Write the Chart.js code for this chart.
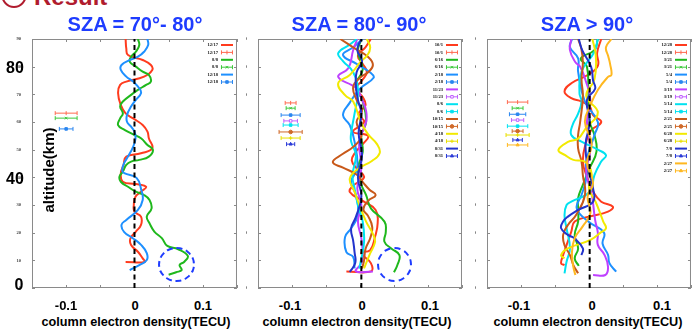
<!DOCTYPE html>
<html>
<head>
<meta charset="utf-8">
<script src="https://cdn.jsdelivr.net/npm/chart.js@4.4.0/dist/chart.umd.min.js"></script>
<style>
  body { margin:0; background:#fff; width:696px; height:329px; overflow:hidden; position:relative;
         font-family:"Liberation Sans", Arial, sans-serif; }
  canvas { position:absolute; }
  .t { position:absolute; transform:translate(-50%,-50%); white-space:nowrap; font-weight:bold; line-height:1; color:#000; }
  .title { color:#1e3cff; font-size:20px; }
  .big { font-size:16px; }
  .xl { font-size:13px; }
  .xt { font-size:12.7px; }
  .ring { position:absolute; border:2.5px dashed #1e3cff; border-radius:50%; box-sizing:border-box; }
</style>
</head>
<body>
<div style="position:absolute;left:1px;top:-20px;width:22px;height:24px;border:2.5px solid #b01c2e;border-radius:50%"></div>
<div style="position:absolute;left:34px;top:-15px;font:bold 24px 'Liberation Sans';color:#b01c2e;line-height:1">Result</div>

<canvas id="c1" width="226" height="263" style="left:16px;top:33px"></canvas>
<canvas id="c2" width="221" height="263" style="left:246px;top:33px"></canvas>
<canvas id="c3" width="221" height="263" style="left:475px;top:33px"></canvas>

<div class="t title" style="left:135px;top:24px">SZA = 70°- 80°</div>
<div class="t title" style="left:359px;top:24px">SZA = 80°- 90°</div>
<div class="t title" style="left:587px;top:24px">SZA &gt; 90°</div>

<div class="t big" style="left:15px;top:68px">80</div>
<div class="t big" style="left:15px;top:179px">40</div>
<div class="t big" style="left:19px;top:285px">0</div>
<div class="t" style="left:48px;top:170px;font-size:15px;transform:translate(-50%,-50%) rotate(-90deg)">altitude(km)</div>

<div class="t xl" style="left:66px;top:305px">-0.1</div>
<div class="t xl" style="left:135px;top:305px">0</div>
<div class="t xl" style="left:203px;top:305px">0.1</div>
<div class="t xl" style="left:290px;top:305px">-0.1</div>
<div class="t xl" style="left:362px;top:305px">0</div>
<div class="t xl" style="left:430px;top:305px">0.1</div>
<div class="t xl" style="left:519px;top:305px">-0.1</div>
<div class="t xl" style="left:592px;top:305px">0</div>
<div class="t xl" style="left:662px;top:305px">0.1</div>

<div class="t xt" style="left:136px;top:322px">column electron density(TECU)</div>
<div class="t xt" style="left:357px;top:322px">column electron density(TECU)</div>
<div class="t xt" style="left:588px;top:322px">column electron density(TECU)</div>

<div class="ring" style="left:158px;top:247px;width:37px;height:35px"></div>
<div class="ring" style="left:377px;top:247px;width:35px;height:35px"></div>

<script>
// ---- data: [density (TECU), altitude (km)] ----
const xTicks = [-0.15, -0.1, -0.05, 0, 0.05, 0.1, 0.15];
const altTicks = [0, 10, 20, 30, 40, 50, 60, 70, 80, 90];

// SZA 70-80
const labels1 = ['12/17', '8/8', '12/18'];
const s1217 = [[-0.013,90],[-0.012,86.6],[-0.0095,84.2],[0.012,82.4],[0.024,80.6],[0.026,78.8],[0.014,76.4],[-0.012,74.6],[-0.021,73.4],[-0.024,70.4],[-0.020,66.1],[-0.013,63.1],[-0.002,61.3],[0.012,58.9],[0.019,56.5],[0.021,54.1],[0.026,50.5],[0.0095,48.7],[-0.012,47.5],[-0.016,44.5],[-0.020,41.4],[-0.017,38.4],[0.002,37.6],[0.017,36.6],[0.0095,34.8],[0.0014,33],[-0.001,30],[0,27.6],[0.0095,25.8],[0.0095,22.8],[0.002,20.4],[-0.006,17.9],[-0.005,15.5],[0.005,13.1],[0.012,10.7],[0.015,9.4],[-0.013,9.4]];
const s0808 = [[0.005,90],[0.007,87.8],[0.002,85.4],[-0.005,83.6],[-0.007,81.8],[0.002,80],[0.012,78.2],[0.021,77],[0.024,74.6],[0.017,73.4],[0.005,71.6],[-0.005,69.8],[-0.017,67.4],[-0.021,65.6],[-0.017,63.1],[-0.021,61.3],[-0.024,58.9],[-0.014,57.1],[0,55.3],[0.0095,54.1],[0.019,51.7],[0.027,49.9],[0.021,47.5],[0.007,46.3],[-0.005,45.7],[-0.012,44.5],[-0.017,42.1],[-0.022,40.2],[-0.020,38.4],[-0.0095,36.6],[0.002,34.8],[0.014,33.6],[0.022,31.8],[0.025,28.8],[0.018,25.8],[0.022,23.4],[0.029,20.4],[0.040,18],[0.048,15.2],[0.064,14],[0.078,11.6],[0.073,9.5],[0.066,8.3],[0.069,6.5],[0.061,5.7],[0.050,4.8]];
const s1218 = [[0.019,90],[0.020,87.8],[0.014,85.4],[0.005,83.6],[-0.007,82.4],[-0.019,80.6],[-0.020,78.8],[-0.012,76.4],[-0.002,74.6],[0.007,72.2],[0.0095,70.4],[0.002,68],[-0.005,65.6],[-0.011,62.5],[-0.011,60.1],[-0.005,58.3],[0,56.5],[0.0015,54.1],[-0.002,51],[-0.010,47.3],[-0.015,45.2],[-0.018,42.6],[-0.015,41.5],[0.003,39.8],[0.010,35.4],[0.012,31.8],[0.005,28.2],[-0.012,24.6],[-0.019,22.8],[-0.015,20.2],[-0.003,18.1],[0.010,15.5],[0.018,12.6],[0.018,10.1],[0.007,8.3],[-0.007,6.5]];
const err1 = [[-0.1,63.2,0.016],[-0.1,61.4,0.016],[-0.1,57.5,0.010]];

// SZA 80-90
const labels2 = ['10/1', '6/16', '2/18', '11/23', '8/6', '10/15', '4/18', '8/31'];
const s1001 = [[0.016,90],[0.008,87],[-0.003,84],[0.004,81],[0.010,78],[0.003,75],[-0.006,72],[0.004,69],[0.008,66],[-0.002,63],[0.006,60],[-0.010,56.5],[0.012,55],[0.004,52],[-0.007,49],[-0.012,46],[-0.004,43],[0.006,40],[-0.010,37],[-0.015,34.7],[0.004,31.5],[0.023,28.2],[0.026,23.5],[0.022,18.4],[0.015,13.7],[0.002,12.6],[0.016,9],[0.016,6],[-0.020,6]];
const s0616 = [[0.002,90],[-0.003,85.4],[0.004,79],[-0.006,73.4],[0.004,67.4],[0.009,60],[0.002,55.3],[0.004,49.2],[-0.003,43.3],[0.002,37.3],[0.009,33.6],[0.016,28.8],[0.036,24],[0.038,20.4],[0.036,16.7],[0.046,14.3],[0.058,11.9],[0.055,8.3],[0.050,5.7]];
const s0218 = [[0.004,90],[-0.010,87],[-0.025,84.2],[-0.005,81],[0.016,77.7],[0.020,76],[0,72],[-0.015,67],[-0.025,62.5],[-0.015,58.9],[-0.008,52.9],[-0.004,43.3],[-0.013,38.4],[-0.006,33.6],[-0.003,26.4],[-0.013,21.6],[-0.022,18.4],[-0.020,13],[-0.010,11.2],[-0.008,7.1]];
const s1123 = [[-0.004,90],[-0.010,86],[-0.017,79.5],[-0.032,76.3],[-0.006,72.3],[0.003,68],[0.009,64],[0.009,60],[-0.001,52.9],[0.002,43.3],[-0.004,36],[0.002,30],[-0.003,24],[0.002,18],[0.004,12],[0.002,9],[-0.006,6],[0.019,6]];
const s0806 = [[-0.005,90],[-0.015,88],[-0.032,84.9],[-0.025,82],[-0.010,78],[-0.003,71],[-0.008,63],[-0.013,56],[-0.013,52.9],[-0.006,48],[-0.011,40.8],[-0.008,36],[-0.003,30],[0.004,24],[0.006,16.7],[0.001,9.5],[-0.001,7]];
const s1015 = [[-0.029,90],[-0.010,87],[0.012,83.5],[0.019,80.6],[0.012,78],[0,76],[-0.010,72.7],[-0.005,68],[0.003,64],[-0.005,60],[0.002,55],[-0.010,51],[-0.025,48.5],[-0.040,45.5],[-0.025,43.5],[-0.005,41],[0.005,38],[0.014,35.5],[0.023,33.6],[0.012,31.5],[0.005,28.5],[0.012,26],[0.018,22],[0.015,18],[0.008,14],[0.006,10],[0.003,7]];
const s0418 = [[0.010,90],[0.015,87],[0.011,84.2],[0.001,81.8],[-0.015,77],[-0.032,74],[-0.022,69.7],[-0.010,67.4],[0.001,60.1],[0.012,55.5],[0.025,52],[0.029,48.8],[0.018,46],[-0.003,43],[-0.015,39.5],[-0.008,34.8],[0.001,28.8],[0.009,24],[0.020,19],[0.022,16.5],[0.014,12],[0.006,7.1]];
const s0831 = [[0.002,90],[-0.004,86],[0.003,82],[-0.005,78],[-0.006,73],[-0.003,68],[0.002,63],[-0.002,56],[0.003,48],[-0.003,40],[0.002,33],[-0.006,25.7],[-0.013,21.6],[-0.010,17],[-0.008,13],[-0.007,9],[-0.015,5.8]];
const err2 = [[-0.102,66.9,0.008],[-0.102,65,0.0066],[-0.102,62.5,0.014],[-0.102,60.4,0.010],[-0.102,58.9,0.011],[-0.102,56.4,0.017],[-0.102,54.2,0.014],[-0.102,52,0.006]];

// SZA > 90
const labels3 = ['12/28', '3/21', '5/4', '3/19', '5/14', '2/25', '6/28', '7/8', '2/27'];
const s1228 = [[0.018,90],[0.012,85],[0.013,80.3],[-0.002,77],[-0.026,74],[-0.036,71],[-0.026,68.6],[-0.011,67.4],[0.001,65.6],[0.006,62.5],[0.018,60],[0.003,57],[-0.004,52.9],[-0.009,45.7],[-0.002,39.6],[0.006,34.8],[0.018,31.2],[0.035,29.4],[0.028,27.6],[0,25.8],[-0.021,24],[-0.026,20.4],[-0.033,15.5],[-0.038,11.9],[-0.041,8.9],[-0.036,8.3]];
const s0321 = [[0.013,90],[0.008,86],[-0.012,83],[-0.003,80],[-0.001,71],[0.001,60.1],[0.008,55.3],[0.011,49.3],[0.001,43.3],[-0.009,37.3],[-0.016,32.5],[-0.016,28.8],[-0.016,24],[-0.021,19.2],[-0.016,14.3],[-0.021,10.7],[-0.015,8]];
const s0504 = [[-0.025,90],[-0.028,87],[-0.016,83],[-0.016,78.2],[-0.006,67.4],[0.013,60],[0.008,55.3],[-0.004,45.7],[-0.004,39.6],[-0.011,33.6],[-0.018,28.8],[-0.001,24],[0.022,20],[0.020,16],[0.028,12],[0.030,9],[0.040,5.9]];
const s0319 = [[-0.026,90],[-0.028,86],[-0.020,81.6],[-0.013,80],[-0.005,75],[0.002,68],[-0.003,60],[0.002,50],[-0.004,42],[0.004,34],[0.009,24.6],[0.013,20],[0.013,15.6],[0.023,11.9],[0.028,7.6],[0.024,4.7],[0.006,4.7]];
const s0514 = [[0.013,90],[0.008,85.4],[-0.011,78.2],[-0.014,70.4],[-0.011,67.4],[-0.016,63],[-0.024,59],[-0.026,55.3],[-0.011,52.9],[0.013,50],[0.025,48],[0.018,45.7],[0.008,40.8],[0.001,34.8],[-0.026,31.2],[-0.033,30],[-0.036,26.4],[-0.033,21.6],[-0.028,14.3],[-0.033,9.5],[-0.036,5.3]];
const s0225 = [[-0.016,90],[-0.011,86.2],[-0.009,81.4],[-0.011,75.4],[-0.009,69.4],[-0.013,60],[-0.016,55.3],[-0.016,50.5],[-0.011,45.7],[-0.009,40.8],[-0.006,33.6],[-0.019,26.4],[-0.031,22.8],[-0.038,19.2],[-0.036,15.5],[-0.028,11.9],[-0.023,8.3],[-0.016,5.3]];
const s0628 = [[0.005,90],[0.010,84],[0.008,75.4],[-0.004,69.4],[0.013,63.4],[-0.004,58],[-0.016,54],[-0.031,52.8],[-0.045,49.9],[-0.035,48],[-0.023,46.3],[-0.005,45.5],[0.004,41],[0,36],[0.010,31],[0.018,26],[0.021,24],[0.025,21.6],[0.018,20.2],[0.003,17.5],[-0.031,14.3],[-0.041,11.9],[-0.036,10.7]];
const s0708 = [[-0.015,90],[-0.010,86],[0.003,80],[0.006,75],[0.009,72],[-0.003,68],[0.001,60],[-0.005,52],[-0.002,44],[0.006,36],[0.006,31.2],[-0.016,28.2],[-0.031,25.8],[-0.038,24],[-0.041,21.6],[-0.031,19.2],[-0.021,17.9],[-0.009,14.3],[-0.011,11.9]];
const s0227 = [[0.033,90],[0.025,87],[0.028,84],[0.031,81],[0.033,77],[0.028,76.3],[0.013,71.6],[0.002,66],[-0.006,60],[0.004,52],[-0.003,45],[0.006,38],[-0.002,33],[0.002,27],[-0.010,22],[-0.021,18],[-0.025,13],[-0.023,7.6],[-0.020,4.7]];
const err3 = [[-0.105,67.2,0.015],[-0.105,65,0.008],[-0.105,62.8,0.012],[-0.105,60.7,0.009],[-0.105,58.5,0.015],[-0.105,56.7,0.008],[-0.105,55.3,0.017],[-0.105,53.5,0.007],[-0.105,51.7,0.015]];

// zero reference line position per panel
const zeroLine = [0, 0.002, 0.001];

// ---- styles ----
const COL = {
  red: ['#ff3b1e', '#ff6a50'], green: ['#1fb81c', '#3cc83a'], blue: ['#1e90ff', '#2a86f0'],
  mag: ['#bf40ff', '#c060ff'], cyan: ['#00e2f0', '#00e2f0'], brown: ['#c8591a', '#d06a2a'],
  yellow: ['#f2ea00', '#e8e000'], navy: ['#2233cc', '#2a3ad8'], orange: ['#ffb820', '#ffb820']
};
const MARK = {
  plus: { style: 'line', rot: 90, fill: true },
  x: { style: 'crossRot', rot: 0, fill: true },
  sq: { style: 'rect', rot: 0, fill: true },
  osq: { style: 'rect', rot: 0, fill: false },
  dot: { style: 'circle', rot: 0, fill: true },
  tri: { style: 'triangle', rot: 0, fill: true },
  cross: { style: 'cross', rot: 0, fill: true }
};

const frame = {
  id: 'frame',
  beforeDatasetsDraw(chart) {
    const { ctx, chartArea: a, scales } = chart;
    ctx.save();
    ctx.strokeStyle = '#8a8a8a';
    ctx.lineWidth = 1;
    ctx.strokeRect(a.left + 0.5, a.top + 0.5, a.right - a.left - 1, a.bottom - a.top - 1);
    ctx.beginPath();
    scales.x.ticks.forEach(t => {
      const px = Math.round(scales.x.getPixelForValue(t.value)) + 0.5;
      ctx.moveTo(px, a.top); ctx.lineTo(px, a.top + 3);
      ctx.moveTo(px, a.bottom); ctx.lineTo(px, a.bottom - 3);
    });
    scales.y.ticks.forEach(t => {
      const py = Math.round(scales.y.getPixelForValue(t.value)) + 0.5;
      ctx.moveTo(a.left, py); ctx.lineTo(a.left + 3, py);
      ctx.moveTo(a.right, py); ctx.lineTo(a.right - 3, py);
    });
    ctx.stroke();
    ctx.restore();
  }
};

const boxLegend = {
  id: 'boxLegend',
  afterDatasetsDraw(chart) {
    const { ctx, chartArea: a } = chart;
    let y = a.top + 6;
    const x0 = a.right - 16, x1 = a.right - 4, xm = (x0 + x1) / 2;
    ctx.save();
    ctx.font = 'bold 4.6px "Liberation Serif"';
    ctx.textAlign = 'right';
    ctx.textBaseline = 'middle';
    chart.data.datasets.forEach(ds => {
      if (!ds.legendKind) return;
      ctx.fillStyle = '#111';
      ctx.fillText(ds.label, a.right - 19, y);
      ctx.strokeStyle = ds.borderColor;
      ctx.beginPath();
      if (ds.legendKind === 'line') {
        ctx.lineWidth = 2;
        ctx.moveTo(x0, y); ctx.lineTo(x1, y);
        ctx.stroke();
      } else {
        ctx.lineWidth = 1;
        ctx.moveTo(x0, y); ctx.lineTo(x1, y);
        ctx.moveTo(x0 + 0.5, y - 2); ctx.lineTo(x0 + 0.5, y + 2);
        ctx.moveTo(x1 - 0.5, y - 2); ctx.lineTo(x1 - 0.5, y + 2);
        ctx.stroke();
        const m = ds.mark;
        ctx.fillStyle = m.fill ? ds.borderColor : '#fff';
        Chart.helpers.drawPoint(ctx, { pointStyle: m.style, radius: m.style === 'line' ? 2 : 1.8, rotation: m.rot, borderWidth: 1 }, xm, y);
      }
      y += 7.4;
    });
    ctx.restore();
  }
};

function makePanel(id, labels, curves, errs, colors, marks, zeroX, yAxisW) {
  const n = labels.length;
  const datasets = [{
    data: [{ x: zeroX, y: 0 }, { x: zeroX, y: 90 }],
    showLine: true, borderColor: '#000', borderWidth: 2, borderDash: [5, 3.5],
    pointRadius: 0, order: -100
  }];
  labels.forEach((lab, i) => {
    const [c, ec] = COL[colors[i]];
    const m = MARK[marks[i]];
    datasets.push({
      label: lab, legendKind: 'line',
      data: curves[i].map(([x, y]) => ({ x, y })),
      showLine: true, borderColor: c, borderWidth: 2, pointRadius: 0, tension: 0.45,
      order: n - i
    });
    const [cx, alt, h] = errs[i];
    datasets.push({
      label: lab, legendKind: 'err', mark: m,
      data: [{ x: cx - h, y: alt }, { x: cx, y: alt }, { x: cx + h, y: alt }],
      showLine: true, borderColor: ec, borderWidth: 1,
      pointStyle: ['line', m.style, 'line'],
      pointRotation: [90, m.rot, 90],
      pointRadius: [2, m.style === 'line' ? 2 : 1.8, 2],
      pointBorderColor: ec, pointBorderWidth: 1,
      pointBackgroundColor: m.fill ? ec : '#fff',
      order: n - i
    });
  });

  const fmt = v => String(Math.round(v * 100) / 100).replace('.', ',');
  new Chart(document.getElementById(id), {
    type: 'scatter',
    data: { datasets },
    options: {
      responsive: false,
      animation: false,
      layout: { padding: { top: 6, right: id === 'c3' ? 3 : 4, left: 0, bottom: 0 } },
      plugins: { legend: { display: false }, tooltip: { enabled: false } },
      scales: {
        x: {
          min: xTicks[0], max: xTicks[xTicks.length - 1],
          afterBuildTicks: s => { s.ticks = xTicks.map(v => ({ value: v })); },
          afterFit: s => { s.height = 8; },
          grid: { display: false }, border: { display: false },
          ticks: { callback: fmt, font: { size: 4.6, family: 'Liberation Serif', weight: 'bold' }, color: '#444', padding: 1, maxRotation: 0, autoSkip: false }
        },
        y: {
          min: altTicks[0], max: altTicks[altTicks.length - 1],
          afterBuildTicks: s => { s.ticks = altTicks.map(v => ({ value: v })); },
          afterFit: s => { s.width = yAxisW; },
          grid: { display: false }, border: { display: false },
          ticks: { font: { size: 4.6, family: 'Liberation Serif', weight: 'bold' }, color: '#444', padding: 3, autoSkip: false }
        }
      }
    },
    plugins: [frame, boxLegend]
  });
}

makePanel('c1', labels1, [s1217, s0808, s1218], err1,
  ['red', 'green', 'blue'], ['plus', 'x', 'sq'], zeroLine[0], 16);
makePanel('c2', labels2, [s1001, s0616, s0218, s1123, s0806, s1015, s0418, s0831], err2,
  ['red', 'green', 'blue', 'mag', 'cyan', 'brown', 'yellow', 'navy'],
  ['plus', 'x', 'sq', 'osq', 'sq', 'dot', 'cross', 'tri'], zeroLine[1], 12);
makePanel('c3', labels3, [s1228, s0321, s0504, s0319, s0514, s0225, s0628, s0708, s0227], err3,
  ['red', 'green', 'blue', 'mag', 'cyan', 'brown', 'yellow', 'navy', 'orange'],
  ['plus', 'x', 'sq', 'osq', 'sq', 'dot', 'cross', 'tri', 'tri'], zeroLine[2], 12);
</script>
</body>
</html>
